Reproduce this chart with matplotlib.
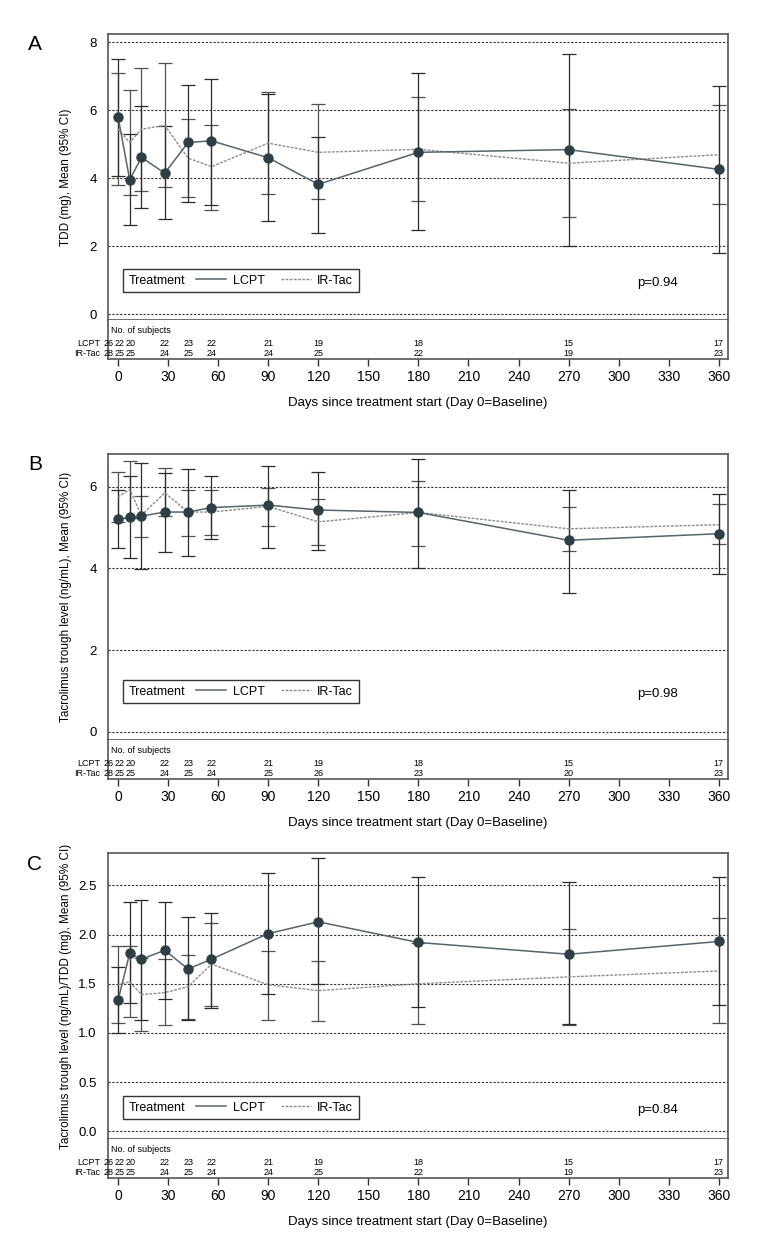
import numpy as np
import matplotlib
matplotlib.use('Agg')
import matplotlib.pyplot as plt
from matplotlib.lines import Line2D
from matplotlib.offsetbox import HPacker

plt.rcParams['font.family'] = ['Liberation Sans', 'DejaVu Sans']

days = [0, 7, 14, 28, 42, 56, 90, 120, 180, 270, 360]
n_lcpt = [26, 22, 20, 22, 23, 22, 21, 19, 18, 15, 17]
# shift of the first counts so they don't collide (pixels)
n_shift = [-9, -10, -11, 0, 0, 0, 0, 0, 0, 0, 0]

# panel A - TDD
a_lcpt_mean = [5.81, 3.95, 4.61, 4.15, 5.05, 5.10, 4.60, 3.82, 4.76, 4.84, 4.26]
a_lcpt_lo = [4.07, 2.61, 3.11, 2.79, 3.29, 3.22, 2.74, 2.38, 2.47, 2.02, 1.80]
a_lcpt_hi = [7.50, 5.29, 6.11, 5.52, 6.73, 6.93, 6.47, 5.22, 7.09, 7.65, 6.71]
a_ir_mean = [5.44, 5.05, 5.44, 5.55, 4.59, 4.34, 5.03, 4.76, 4.85, 4.44, 4.69]
a_ir_lo = [3.80, 3.51, 3.63, 3.73, 3.46, 3.06, 3.53, 3.39, 3.32, 2.85, 3.23]
a_ir_hi = [7.09, 6.58, 7.24, 7.40, 5.73, 5.55, 6.53, 6.17, 6.38, 6.03, 6.15]
a_n_ir = [28, 25, 25, 24, 25, 24, 24, 25, 22, 19, 23]

# panel B - trough level
b_lcpt_mean = [5.21, 5.25, 5.28, 5.38, 5.38, 5.49, 5.55, 5.43, 5.37, 4.69, 4.85]
b_lcpt_lo = [4.50, 4.25, 3.99, 4.40, 4.31, 4.73, 4.51, 4.46, 4.02, 3.39, 3.87]
b_lcpt_hi = [5.93, 6.27, 6.57, 6.34, 6.43, 6.27, 6.51, 6.37, 6.67, 5.93, 5.81]
b_ir_mean = [5.75, 5.93, 5.30, 5.85, 5.38, 5.38, 5.52, 5.14, 5.37, 4.97, 5.07]
b_ir_lo = [5.14, 5.23, 4.76, 5.28, 4.80, 4.83, 5.04, 4.58, 4.56, 4.43, 4.59]
b_ir_hi = [6.37, 6.63, 5.78, 6.45, 5.93, 5.93, 5.97, 5.70, 6.15, 5.51, 5.57]
b_n_ir = [28, 25, 25, 24, 25, 24, 25, 26, 23, 20, 23]

# panel C - trough level / TDD
c_lcpt_mean = [1.33, 1.81, 1.75, 1.84, 1.65, 1.75, 2.01, 2.13, 1.92, 1.80, 1.93]
c_lcpt_lo = [1.00, 1.30, 1.13, 1.35, 1.13, 1.25, 1.40, 1.50, 1.26, 1.09, 1.28]
c_lcpt_hi = [1.67, 2.33, 2.35, 2.33, 2.18, 2.22, 2.63, 2.78, 2.59, 2.54, 2.59]
c_ir_mean = [1.49, 1.52, 1.39, 1.41, 1.47, 1.70, 1.49, 1.43, 1.50, 1.57, 1.63]
c_ir_lo = [1.10, 1.16, 1.02, 1.08, 1.14, 1.27, 1.13, 1.12, 1.09, 1.08, 1.10]
c_ir_hi = [1.88, 1.88, 1.76, 1.75, 1.79, 2.12, 1.83, 1.73, 1.91, 2.06, 2.17]
c_n_ir = [28, 25, 25, 24, 25, 24, 24, 25, 22, 19, 23]

W, H = 780, 1260
fig = plt.figure(figsize=(W / 100, H / 100), dpi=100)

frame_col = '#555555'


def rect(top, bottom):
    return [108 / W, 1 - bottom / H, 620 / W, (bottom - top) / H]


def panel(letter, top, ylabel, yticks, ylim, fmt,
          lm, llo, lhi, im, ilo, ihi, n_ir, pval, leg_y):
    ax = fig.add_axes(rect(top, top + 286))
    tb = fig.add_axes(rect(top + 286, top + 286 + 39), sharex=ax)

    for y in yticks:
        ax.axhline(y, color='#333333', lw=0.8, ls=(0, (2, 1.5)), zorder=1)

    ax.errorbar(days, im, yerr=[np.subtract(im, ilo), np.subtract(ihi, im)],
                fmt='none', ecolor='#505050', elinewidth=0.9, capsize=5, capthick=0.9, zorder=2)
    ax.errorbar(days, lm, yerr=[np.subtract(lm, llo), np.subtract(lhi, lm)],
                fmt='none', ecolor='#2a2a2a', elinewidth=0.9, capsize=5, capthick=0.9, zorder=2)
    ax.plot(days, im, color='#8c8c8c', lw=1.0, ls=(0, (2, 1)), zorder=3)
    ax.plot(days, lm, color='#56656b', lw=1.1, marker='o', ms=6.5,
            mfc='#2d3e45', mec='#2d3e45', zorder=4)

    ax.set_xlim(-6, 365.5)
    ax.set_ylim(*ylim)
    ax.set_yticks(yticks)
    ax.set_yticklabels([fmt % v for v in yticks], fontsize=9.5)
    ax.tick_params(axis='y', length=0, pad=8)
    ax.tick_params(axis='x', bottom=False, labelbottom=False)
    for s in ax.spines.values():
        s.set_color(frame_col)
        s.set_linewidth(1.2)
    ax.set_ylabel(ylabel, fontsize=8.5)
    ax.yaxis.set_label_coords(-0.058, 0.5)

    handles = [Line2D([], [], color='#56656b', lw=1.1),
               Line2D([], [], color='#8c8c8c', lw=1.0, ls=(0, (2, 1)))]
    leg = ax.legend(handles, ['LCPT', 'IR-Tac'], ncol=2, title='Treatment',
                    loc='upper left', bbox_to_anchor=(0.024, leg_y), borderaxespad=0,
                    fontsize=9, title_fontsize=9, frameon=True, fancybox=False,
                    edgecolor='#333333', framealpha=1, handlelength=2.4,
                    columnspacing=1.3, borderpad=0.45, handletextpad=0.5)
    leg.get_frame().set_linewidth(1.0)
    fs = leg._fontsize
    leg._legend_box = HPacker(pad=leg.borderpad * fs, sep=0.9 * fs, align='center',
                              children=[leg._legend_title_box, leg._legend_handle_box])
    leg._legend_box.set_figure(fig)
    leg._legend_box.axes = ax
    leg._loc = leg._loc

    ax.text(0.887, leg_y - 0.05, 'p=%.2f' % pval, transform=ax.transAxes,
            ha='center', va='center', fontsize=9.5)

    # number at risk table
    tb.set_ylim(0, 1)
    tb.set_yticks([])
    tb.spines['top'].set_visible(False)
    for s in ['left', 'right', 'bottom']:
        tb.spines[s].set_color(frame_col)
        tb.spines[s].set_linewidth(1.2)
    tb.set_xticks(np.arange(0, 361, 30))
    tb.tick_params(axis='x', direction='out', length=5, width=1, color='#333333',
                   labelsize=10, pad=3)
    tb.set_xlabel('Days since treatment start (Day 0=Baseline)', fontsize=9.5, labelpad=9)
    tb.text(0.005, 0.74, 'No. of subjects', transform=tb.transAxes, fontsize=6.5,
            ha='left', va='center')
    tb.text(-0.013, 0.41, 'LCPT', transform=tb.transAxes, fontsize=6.5, ha='right', va='center')
    tb.text(-0.013, 0.15, 'IR-Tac', transform=tb.transAxes, fontsize=6.5, ha='right', va='center')
    for d, a, b, sh in zip(days, n_lcpt, n_ir, n_shift):
        tb.annotate(str(a), (d, 0.41), xytext=(sh, 0), textcoords='offset pixels',
                    fontsize=6.5, ha='center', va='center')
        tb.annotate(str(b), (d, 0.15), xytext=(sh, 0), textcoords='offset pixels',
                    fontsize=6.5, ha='center', va='center')

    fig.text(35 / W, 1 - (top + 11) / H, letter, fontsize=15, ha='center', va='center')


panel('A', 34, 'TDD (mg), Mean (95% CI)', [0, 2, 4, 6, 8], (-0.17, 8.24), '%d',
      a_lcpt_mean, a_lcpt_lo, a_lcpt_hi, a_ir_mean, a_ir_lo, a_ir_hi, a_n_ir, 0.94, 0.178)
panel('B', 454, 'Tacrolimus trough level (ng/mL), Mean (95% CI)', [0, 2, 4, 6], (-0.196, 6.80), '%d',
      b_lcpt_mean, b_lcpt_lo, b_lcpt_hi, b_ir_mean, b_ir_lo, b_ir_hi, b_n_ir, 0.98, 0.21)
panel('C', 853, 'Tacrolimus trough level (ng/mL)/TDD (mg), Mean (95% CI)',
      [0, 0.5, 1.0, 1.5, 2.0, 2.5], (-0.079, 2.83), '%.1f',
      c_lcpt_mean, c_lcpt_lo, c_lcpt_hi, c_ir_mean, c_ir_lo, c_ir_hi, c_n_ir, 0.84, 0.15)

fig.savefig('out.png', dpi=100)
